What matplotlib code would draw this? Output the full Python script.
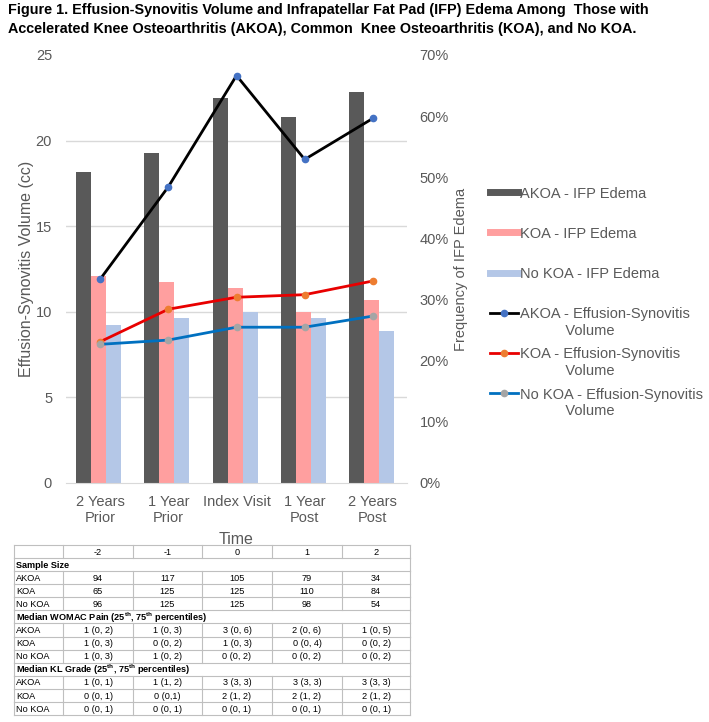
import matplotlib
matplotlib.use('Agg')
import matplotlib.pyplot as plt
from matplotlib.lines import Line2D
from matplotlib.legend_handler import HandlerLine2D
import numpy as np

plt.rcParams['font.family'] = ['Liberation Sans', 'DejaVu Sans']
plt.rcParams['mathtext.fontset'] = 'custom'
plt.rcParams['mathtext.rm'] = 'Liberation Sans'
plt.rcParams['mathtext.bf'] = 'Liberation Sans:bold'

# ---- chart data ----
categories = ['2 Years\nPrior', '1 Year\nPrior', 'Index Visit', '1 Year\nPost', '2 Years\nPost']
akoa_ifp = [50.9, 54.0, 63.0, 59.9, 64.0]      # % frequency of IFP edema
koa_ifp = [33.9, 32.9, 31.9, 28.0, 29.9]
nokoa_ifp = [25.8, 27.0, 28.0, 27.0, 24.9]
akoa_es = [11.9, 17.3, 23.8, 18.9, 21.3]       # effusion-synovitis volume (cc)
koa_es = [8.25, 10.15, 10.85, 11.0, 11.8]
nokoa_es = [8.1, 8.35, 9.1, 9.1, 9.75]

# ---- table data ----
time_points = ['-2', '-1', '0', '1', '2']
n_akoa = [94, 117, 105, 79, 34]
n_koa = [65, 125, 125, 110, 84]
n_nokoa = [96, 125, 125, 98, 54]
pain_akoa = ['1 (0, 2)', '1 (0, 3)', '3 (0, 6)', '2 (0, 6)', '1 (0, 5)']
pain_koa = ['1 (0, 3)', '0 (0, 2)', '1 (0, 3)', '0 (0, 4)', '0 (0, 2)']
pain_nokoa = ['1 (0, 3)', '1 (0, 2)', '0 (0, 2)', '0 (0, 2)', '0 (0, 2)']
kl_akoa = ['1 (0, 1)', '1 (1, 2)', '3 (3, 3)', '3 (3, 3)', '3 (3, 3)']
kl_koa = ['0 (0, 1)', '0 (0,1)', '2 (1, 2)', '2 (1, 2)', '2 (1, 2)']
kl_nokoa = ['0 (0, 1)', '0 (0, 1)', '0 (0, 1)', '0 (0, 1)', '0 (0, 1)']

# colours
dark_col = '#595959'
pink_col = '#FF9F9F'
lblue_col = '#B4C7E7'
txt_col = '#595959'
grid_col = '#D9D9D9'

W, H = 709, 722
fig = plt.figure(figsize=(W / 100, H / 100), dpi=100)

def px_box(x0, y0, x1, y1):
    return [x0 / W, 1 - y1 / H, (x1 - x0) / W, (y1 - y0) / H]

ax = fig.add_axes(px_box(66, 55, 407, 483))
ax2 = ax.twinx()
ax.set_zorder(2)
ax2.set_zorder(1)
ax.patch.set_visible(False)

x = np.arange(len(categories))
bw = 0.22
ax2.bar(x - bw - 0.02, akoa_ifp, bw, color=dark_col, zorder=3)
ax2.bar(x - 0.02, koa_ifp, bw, color=pink_col, zorder=3)
ax2.bar(x + bw - 0.02, nokoa_ifp, bw, color=lblue_col, zorder=3)

ax.plot(x, akoa_es, '-o', color='black', lw=2, ms=4.5, mfc='#4472C4', mec='#4472C4')
ax.plot(x, koa_es, '-o', color='#E80000', lw=2, ms=4.5, mfc='#ED7D31', mec='#ED7D31')
ax.plot(x, nokoa_es, '-o', color='#0070C0', lw=2, ms=4.5, mfc='#A5A5A5', mec='#A5A5A5')

ax.set_xlim(-0.5, 4.5)
ax.set_ylim(0, 25)
ax2.set_ylim(0, 70)
ax.set_yticks([0, 5, 10, 15, 20, 25])
ax2.set_yticks(np.arange(0, 71, 10))
ax2.set_yticklabels(['%d%%' % v for v in range(0, 71, 10)])
# gridlines follow the left axis (5 cc = 14 %) but sit behind the bars
ax2.set_yticks([14, 28, 42, 56, 70], minor=True)
ax2.grid(True, which='minor', axis='y', color=grid_col, lw=1, zorder=0)
ax2.tick_params(axis='y', which='minor', length=0)
ax2.set_axisbelow(True)

ax.set_xticks(x)
ax.set_xticklabels(categories)
ax.tick_params(axis='both', length=0, labelsize=10.5, labelcolor=txt_col)
ax.tick_params(axis='x', pad=8.5)
ax.tick_params(axis='y', pad=10)
ax2.tick_params(axis='y', length=0, labelsize=10.5, labelcolor=txt_col, pad=9)

for a in (ax, ax2):
    for s in ['top', 'right', 'left']:
        a.spines[s].set_visible(False)
ax.spines['bottom'].set_color(grid_col)
ax2.spines['bottom'].set_visible(False)

ax.set_ylabel('Effusion-Synovitis Volume (cc)', fontsize=11.5, color=txt_col, labelpad=1)
ax2.set_ylabel('Frequency of IFP Edema', fontsize=10.5, color=txt_col, labelpad=4)
ax.set_xlabel('Time', fontsize=11.5, color=txt_col, labelpad=5)

# legend: handles sit on the first line of each label
class FirstLineHandler(HandlerLine2D):
    def create_artists(self, legend, orig_handle, xdescent, ydescent, width, height, fontsize, trans):
        lift = 0.7 * fontsize
        return super().create_artists(legend, orig_handle, xdescent, ydescent - 2 * lift,
                                      width, height, fontsize, trans)

indent = ' ' * 11
leg_handles = [
    Line2D([], [], color=dark_col, lw=5),
    Line2D([], [], color=pink_col, lw=5),
    Line2D([], [], color=lblue_col, lw=5),
    Line2D([], [], color='black', lw=2, marker='o', ms=4.5, mfc='#4472C4', mec='#4472C4'),
    Line2D([], [], color='#E80000', lw=2, marker='o', ms=4.5, mfc='#ED7D31', mec='#ED7D31'),
    Line2D([], [], color='#0070C0', lw=2, marker='o', ms=4.5, mfc='#A5A5A5', mec='#A5A5A5'),
]
leg_labels = [
    'AKOA - IFP Edema\n ',
    'KOA - IFP Edema\n ',
    'No KOA - IFP Edema\n ',
    'AKOA - Effusion-Synovitis\n' + indent + 'Volume',
    'KOA - Effusion-Synovitis\n' + indent + 'Volume',
    'No KOA - Effusion-Synovitis\n' + indent + 'Volume',
]
leg = fig.legend(leg_handles, leg_labels, loc='upper left',
                 bbox_to_anchor=(490 / W, 1 - 187 / H), frameon=False,
                 fontsize=10.5, labelspacing=0.68, handlelength=1.9,
                 handletextpad=0.15, borderpad=0, borderaxespad=0,
                 handler_map={Line2D: FirstLineHandler()})
for t in leg.get_texts():
    t.set_color(txt_col)

# title
fig.text(8 / W, 1 - 3 / H,
         'Figure 1. Effusion-Synovitis Volume and Infrapatellar Fat Pad (IFP) Edema Among  Those with\n'
         'Accelerated Knee Osteoarthritis (AKOA), Common  Knee Osteoarthritis (KOA), and No KOA.',
         ha='left', va='top', fontsize=10.4, fontweight='bold', linespacing=1.42)

# ---- table below the chart ----
axt = fig.add_axes(px_box(14, 545, 410, 715))
col_edges = [0, 49, 119, 188, 258, 328, 396]
rows = [
    ('head', '', time_points),
    ('section', 'Sample Size', None),
    ('row', 'AKOA', [str(v) for v in n_akoa]),
    ('row', 'KOA', [str(v) for v in n_koa]),
    ('row', 'No KOA', [str(v) for v in n_nokoa]),
    ('section', r'Median WOMAC Pain (25$^{\mathbf{th}}$, 75$^{\mathbf{th}}$ percentiles)', None),
    ('row', 'AKOA', pain_akoa),
    ('row', 'KOA', pain_koa),
    ('row', 'No KOA', pain_nokoa),
    ('section', r'Median KL Grade (25$^{\mathbf{th}}$, 75$^{\mathbf{th}}$ percentiles)', None),
    ('row', 'AKOA', kl_akoa),
    ('row', 'KOA', kl_koa),
    ('row', 'No KOA', kl_nokoa),
]
nrow = len(rows)
axt.set_xlim(0, col_edges[-1])
axt.set_ylim(nrow, 0)
axt.axis('off')
line_col = '#BFBFBF'
tfs = 6.6
for r in range(nrow + 1):
    axt.plot([0, col_edges[-1]], [r, r], color=line_col, lw=0.8, clip_on=False)
for r, (kind, label, vals) in enumerate(rows):
    if kind == 'section':
        edges = [col_edges[0], col_edges[-1]]
        axt.text(2, r + 0.55, label, ha='left', va='center', fontsize=tfs, fontweight='bold')
    else:
        edges = col_edges
        axt.text(2, r + 0.55, label, ha='left', va='center', fontsize=tfs)
        for j, v in enumerate(vals):
            xc = (col_edges[j + 1] + col_edges[j + 2]) / 2
            axt.text(xc, r + 0.55, v, ha='center', va='center', fontsize=tfs)
    for e in edges:
        axt.plot([e, e], [r, r + 1], color=line_col, lw=0.8, clip_on=False)

fig.savefig('out.png', dpi=100)
